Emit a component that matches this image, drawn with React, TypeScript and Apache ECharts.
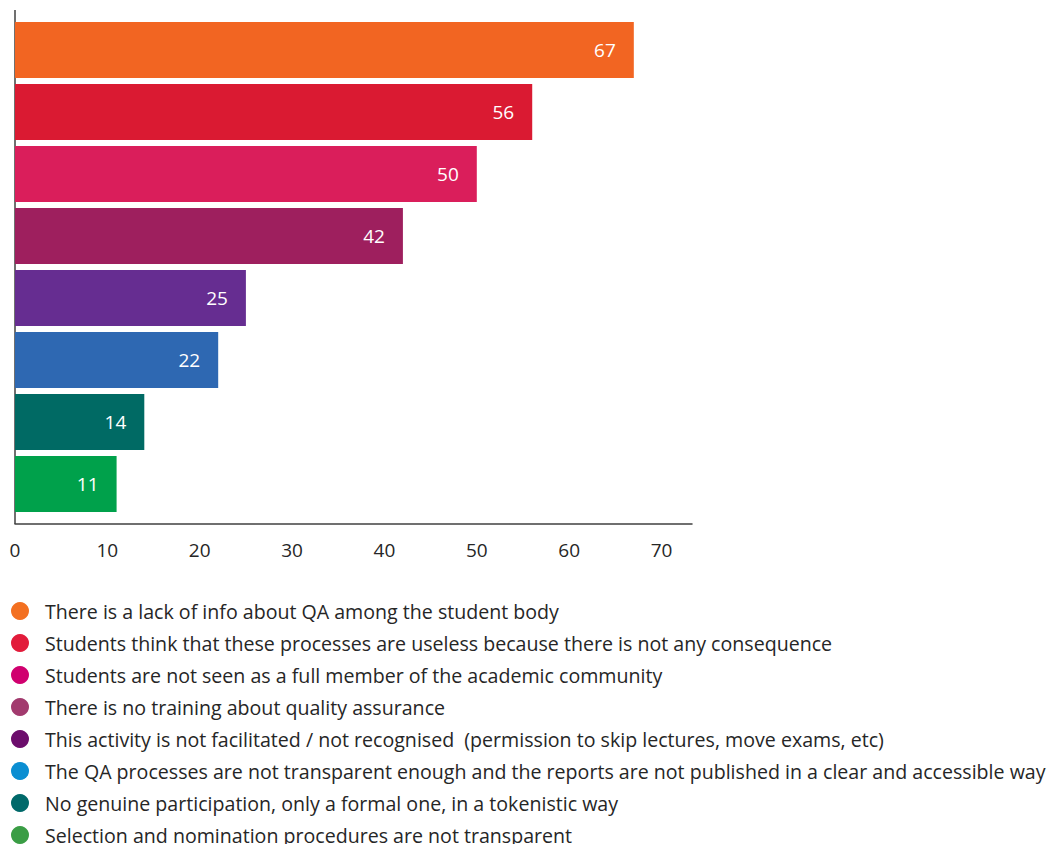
import React, { useEffect, useRef } from "react";
import * as echarts from "echarts";

const categories = [
  "There is a lack of info about QA among the student body",
  "Students think that these processes are useless because there is not any consequence",
  "Students are not seen as a full member of the academic community",
  "There is no training about quality assurance",
  "This activity is not facilitated / not recognised  (permission to skip lectures, move exams, etc)",
  "The QA processes are not transparent enough and the reports are not published in a clear and accessible way",
  "No genuine participation, only a formal one, in a tokenistic way",
  "Selection and nomination procedures are not transparent",
];
const values = [67, 56, 50, 42, 25, 22, 14, 11];
const barColors = ["#F26522", "#DA1A32", "#DA1E5B", "#9E1F5E", "#662D91", "#2E68B2", "#006A64", "#00A14B"];
const legendColors = ["#F37021", "#E21C3B", "#D0006F", "#A23A6E", "#6C0D6C", "#0A8ED2", "#00696A", "#3A9D45"];

export default function App() {
  const ref = useRef<HTMLDivElement>(null);
  useEffect(() => {
    document.body.style.margin = "0";
    const chart = echarts.init(ref.current!, null, { renderer: "svg" });
    const font = "'Open Sans', sans-serif";
    const series = categories.map((name, i) => ({
      name,
      type: "bar",
      stack: "all",
      barWidth: 56,
      itemStyle: { color: barColors[i] },
      label: {
        show: true,
        position: "insideRight",
        distance: 18,
        color: "#ffffff",
        fontSize: 19,
        fontFamily: font,
      },
      data: values.map((v, j) => (j === i ? v : null)),
    }));
    chart.setOption({
      animation: false,
      grid: { left: 15, top: 19, width: 677, height: 496, containLabel: false },
      xAxis: {
        type: "value",
        min: 0,
        max: 73.3,
        interval: 10,
        offset: 9,
        axisLine: { show: true, lineStyle: { color: "#404040", width: 1.5 } },
        axisTick: { show: false },
        splitLine: { show: false },
        axisLabel: {
          showMaxLabel: false,
          margin: 16,
          fontSize: 19,
          color: "#262626",
          fontFamily: font,
        },
      },
      yAxis: {
        type: "category",
        inverse: true,
        data: categories,
        axisLine: { show: false },
        axisTick: { show: false },
        axisLabel: { show: false },
      },
      legend: {
        orient: "vertical",
        left: 11,
        top: 601,
        height: 260,
        padding: 0,
        icon: "circle",
        itemWidth: 18,
        itemHeight: 18,
        itemGap: 12,
        selectedMode: false,
        data: categories.map((name, i) => ({ name, itemStyle: { color: legendColors[i] } })),
        textStyle: {
          fontSize: 19.6,
          lineHeight: 20,
          color: "#262626",
          fontFamily: font,
          padding: [0, 0, 0, 11],
        },
      },
      graphic: [
        {
          type: "line",
          shape: { x1: 15, y1: 10, x2: 15, y2: 524 },
          style: { stroke: "#404040", lineWidth: 1.5 },
        },
      ],
      series,
    });
    return () => chart.dispose();
  }, []);
  return <div ref={ref} style={{ width: 1053, height: 844 }} />;
}
